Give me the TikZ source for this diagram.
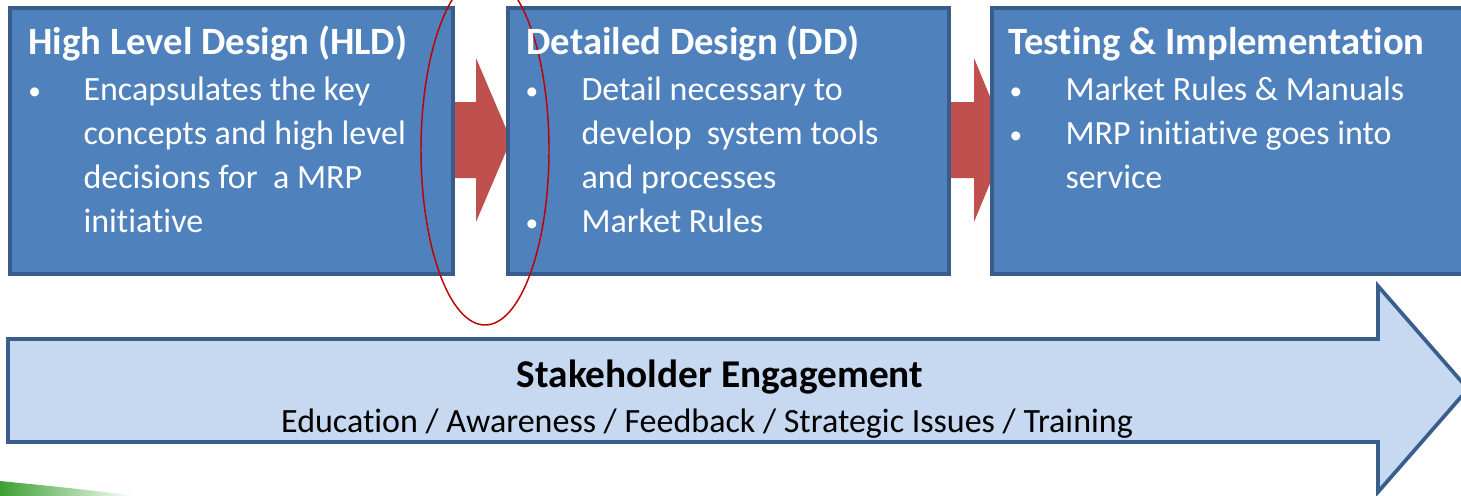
\documentclass[tikz,border=0pt]{standalone}
\usepackage{fontspec}
\setmainfont{Carlito}[RawFeature={-liga;-clig;-calt;-dlig}]
\usetikzlibrary{positioning}

\definecolor{boxfill}{RGB}{79,129,189}
\definecolor{boxdraw}{RGB}{56,93,138}
\definecolor{flowred}{RGB}{192,80,77}
\definecolor{bandfill}{RGB}{198,217,241}
\definecolor{banddraw}{RGB}{58,94,140}
\definecolor{ringred}{RGB}{192,0,0}
\definecolor{swoosh}{RGB}{60,160,50}

\tikzset{
	stagebox/.style={draw=boxdraw, line width=2.8pt, fill=boxfill, rectangle, inner sep=0pt, anchor=north west},
	stagetitle/.style={anchor=base west, inner sep=0pt, text=white, font=\fontsize{29}{33}\selectfont\bfseries},
	itemtxt/.style={anchor=base west, inner sep=0pt, text=white, font=\fontsize{25.5}{33}\selectfont},
	itemdot/.style={anchor=base west, inner sep=0pt, text=white, font=\fontsize{19}{33}\selectfont},
	bandtxt/.style={anchor=base, inner sep=0pt, text=black, font=\fontsize{25.5}{30}\selectfont}}
\tikzset{every picture/.style={line width=0.75pt}}

\begin{document}
\begin{tikzpicture}[x=0.75pt,y=0.75pt,yscale=-1,xscale=1]
	\useasboundingbox (0,0) rectangle (1461,496);

	%green swoosh, bottom left
	\shade [left color=swoosh, right color=white] (0,481) .. controls (50,486) and (100,491) .. (135,496) -- (0,496) -- cycle ;

	%Right Arrow, HLD to DD
	\draw [draw opacity=0][fill=flowred] (447,102) -- (476,102) -- (476,58) -- (511,140) -- (476,222) -- (476,178) -- (447,178) -- cycle ;
	%Right Arrow, DD to T&I
	\draw [draw opacity=0][fill=flowred] (944,102) -- (974,102) -- (974,58) -- (1008,140) -- (974,222) -- (974,178) -- (944,178) -- cycle ;

	%stage boxes
	\node [stagebox, minimum width=332.25pt, minimum height=199.5pt] (hld) at (8,6) {};
	\node [stagebox, minimum width=330.75pt, minimum height=199.5pt] (dd) at (506,6) {};
	\node [stagebox, minimum width=363pt, minimum height=199.5pt] (ti) at (990,6) {};

	%Big Right Arrow, stakeholder band
	\draw [color=banddraw, line width=2.8pt][fill=bandfill] (8,339) -- (1378,339) -- (1378,286) -- (1468,389) -- (1378,492) -- (1378,442) -- (8,442) -- cycle ;

	%ring round the first hand-over
	\draw [color=ringred, line width=1.1pt] (485,150) ellipse (64 and 175);

	% HLD text
	\node [stagetitle] (hld-title) at (28,55) {High Level Design (HLD)};
	\node [itemdot] (hld-dot) at (28,99) {\textbullet};
	\foreach \t [count=\i] in {Encapsulates the key, concepts and high level, decisions for\ \ a MRP, initiative}
		\node [itemtxt] (hld-\i) at (83,56+44*\i) {\t};

	% DD text
	\node [stagetitle] (dd-title) at (526,55) {Detailed Design (DD)};
	\node [itemdot] (dd-dot1) at (525,99) {\textbullet};
	\node [itemdot] (dd-dot2) at (525,231) {\textbullet};
	\foreach \t [count=\i] in {Detail necessary\ to, develop\ \ system tools, and processes, Market Rules}
		\node [itemtxt] (dd-\i) at (581,56+44*\i) {\t};

	% T&I text
	\node [stagetitle] (ti-title) at (1008,55) {Testing \& Implementation};
	\node [itemdot] (ti-dot1) at (1009,99) {\textbullet};
	\node [itemdot] (ti-dot2) at (1009,143) {\textbullet};
	\foreach \t [count=\i] in {Market Rules \& Manuals, MRP initiative goes into, service}
		\node [itemtxt] (ti-\i) at (1065,56+44*\i) {\t};

	% band text
	\node [bandtxt, font=\fontsize{29.5}{33}\selectfont\bfseries] (band-title) at (720,387) {Stakeholder Engagement};
	\node [bandtxt] (band-sub) at (707,432) {Education / Awareness / Feedback / Strategic Issues / Training};

\end{tikzpicture}
\end{document}
